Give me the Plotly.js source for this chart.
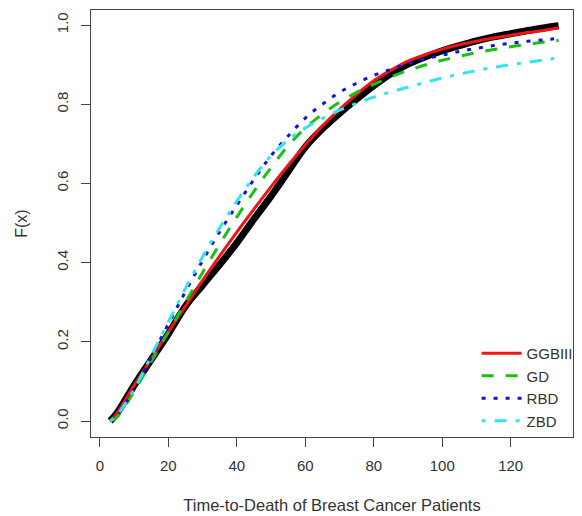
<!DOCTYPE html>
<html>
<head>
<meta charset="utf-8">
<script src="https://cdn.plot.ly/plotly-3.0.1.min.js"></script>
<style>html,body{margin:0;padding:0;background:#fff;}#chart{width:582px;height:516px;}</style>
</head>
<body>
<div id="chart"></div>
<script>
const xGrid = [3,5,10,15,20,25,30,35,40,45,50,55,60,65,70,75,80,85,90,95,100,105,110,115,120,125,130,134];
// empirical CDF (black)
const empirical = [0,0.02,0.09,0.155,0.22,0.29,0.343,0.395,0.45,0.51,0.568,0.63,0.692,0.738,0.777,0.813,0.847,0.877,0.901,0.919,0.935,0.948,0.96,0.97,0.978,0.986,0.993,0.998];
// fitted CDFs
const ggbiii = [0,0.02,0.09,0.157,0.225,0.29,0.355,0.417,0.477,0.535,0.592,0.646,0.697,0.745,0.787,0.825,0.859,0.886,0.909,0.925,0.939,0.95,0.959,0.967,0.974,0.981,0.987,0.993];
const gd     = [0,0.01,0.075,0.15,0.225,0.30,0.375,0.447,0.515,0.58,0.64,0.695,0.74,0.775,0.805,0.83,0.85,0.869,0.885,0.899,0.911,0.921,0.93,0.938,0.945,0.951,0.957,0.961];
const rbd    = [0,0.015,0.08,0.162,0.245,0.327,0.405,0.478,0.545,0.61,0.67,0.72,0.765,0.8,0.83,0.853,0.873,0.888,0.902,0.914,0.924,0.933,0.941,0.948,0.954,0.959,0.963,0.966];
const zbd    = [0,0.015,0.08,0.165,0.25,0.335,0.415,0.488,0.555,0.617,0.67,0.71,0.74,0.764,0.785,0.802,0.818,0.831,0.843,0.855,0.866,0.876,0.885,0.893,0.9,0.906,0.912,0.917];
const seriesNames = ["GGBIII","GD","RBD","ZBD"];
const xTicks = [0,20,40,60,80,100,120];
const yTicks = [0,0.2,0.4,0.6,0.8,1.0];
const yTickText = ["0.0","0.2","0.4","0.6","0.8","1.0"];

const font = "Liberation Sans, Arial, sans-serif";
const traces = [
  {x:xGrid, y:empirical, mode:"lines", line:{color:"#000000", width:7, shape:"spline"}, showlegend:false, hoverinfo:"skip"},
  {x:xGrid, y:ggbiii, name:seriesNames[0], mode:"lines", line:{color:"#f01414", width:3, shape:"spline"}},
  {x:xGrid, y:gd, name:seriesNames[1], mode:"lines", line:{color:"#18c018", width:3, dash:"12px,12px", shape:"spline"}},
  {x:xGrid, y:rbd, name:seriesNames[2], mode:"lines", line:{color:"#1414d2", width:3, dash:"4px,8px", shape:"spline"}},
  {x:xGrid, y:zbd, name:seriesNames[3], mode:"lines", line:{color:"#30e4f0", width:3, dash:"4px,9px,12px,9px", shape:"spline"}}
];
const axisCommon = {showgrid:false, zeroline:false, showline:true, mirror:true, linecolor:"#444", linewidth:1,
  ticks:"outside", ticklen:9, tickcolor:"#444", tickwidth:1, tickfont:{family:font, size:15, color:"#333"}};
const layout = {
  width:582, height:516,
  margin:{l:91, r:4, t:10, b:79},
  paper_bgcolor:"#fff", plot_bgcolor:"#fff",
  font:{family:font, size:15, color:"#333"},
  xaxis:Object.assign({}, axisCommon, {range:[-2.6,138.2], tickvals:xTicks, automargin:false, ticklabelstandoff:6,
    title:{text:"Time-to-Death of Breast Cancer Patients", font:{family:font, size:16.5, color:"#333"}, standoff:26}}),
  yaxis:Object.assign({}, axisCommon, {range:[-0.0404,1.0379], tickvals:yTicks, ticktext:yTickText, tickangle:-90, automargin:false, ticklabelstandoff:7,
    title:{text:"F(x)", font:{family:font, size:16, color:"#333"}, standoff:22}}),
  legend:{x:0.80, y:0.0, xanchor:"left", yanchor:"bottom", bgcolor:"rgba(0,0,0,0)", borderwidth:0,
    font:{family:font, size:15, color:"#333"}, itemwidth:40, tracegroupgap:0},
  showlegend:true
};
Plotly.newPlot("chart", traces, layout, {displayModeBar:false, staticPlot:true});
</script>
</body>
</html>
